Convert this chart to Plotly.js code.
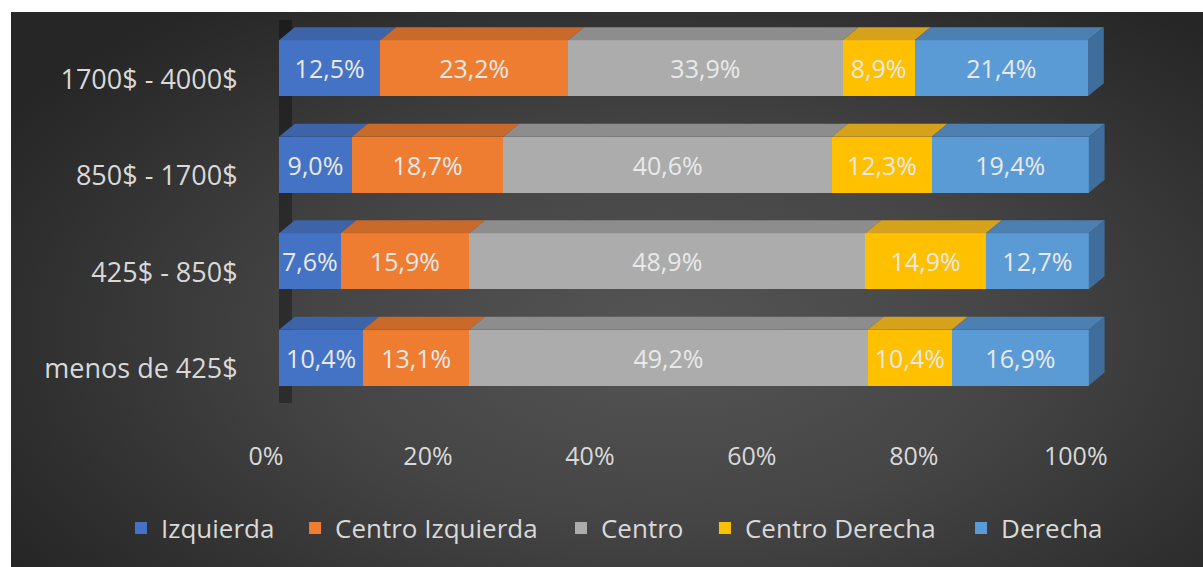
<!DOCTYPE html>
<html>
<head>
<meta charset="utf-8">
<script src="https://cdn.plot.ly/plotly-3.0.1.min.js"></script>
<style>
  html, body { margin: 0; padding: 0; background: #ffffff; }
  #wrap { position: relative; width: 1203px; height: 567px; overflow: hidden; }
  #bg { position: absolute; left: 11px; top: 12px; width: 1192px; height: 555px;
        background: radial-gradient(ellipse 65% 75% at 55% 58%, #555555 0%, #454545 45%, #2e2e2e 85%, #262626 100%); }
  #chart { position: absolute; left: 0; top: 0; width: 1203px; height: 567px; }
</style>
</head>
<body>
<div id="wrap"><div id="bg"></div><div id="chart"></div></div>
<script>
// ---- data ----
const categories = ['menos de 425$', '425$ - 850$', '850$ - 1700$', '1700$ - 4000$'];
const seriesNames = ['Izquierda', 'Centro Izquierda', 'Centro', 'Centro Derecha', 'Derecha'];
const izquierda = [10.4, 7.6, 9.0, 12.5];
const centroIzquierda = [13.1, 15.9, 18.7, 23.2];
const centro = [49.2, 48.9, 40.6, 33.9];
const centroDerecha = [10.4, 14.9, 12.3, 8.9];
const derecha = [16.9, 12.7, 19.4, 21.4];
const xTickVals = [0, 20, 40, 60, 80, 100];
const xTickText = ['0%', '20%', '40%', '60%', '80%', '100%'];

// ---- style ----
const frontColors = ['#4472c4', '#ee7d31', '#acacac', '#ffc000', '#5b9bd5'];
const topColors   = ['#3d63a8', '#c96a2a', '#8d8d8d', '#d6a21c', '#4c80b2'];
const sideColor = '#3f6e9c';
const barW = 0.58;     // front face height (category units)
const depthX = 1.95;   // 3D depth offset in % units
const depthY = 0.135;  // 3D depth offset in category units
const FONT = '"Open Sans", "Liberation Sans", sans-serif';
const legendX = [-0.1913, 0.0194, 0.3414, 0.5157, 0.8257]; // legend entry positions (paper)

const allSeries = [izquierda, centroIzquierda, centro, centroDerecha, derecha];
const yIdx = categories.map((c, i) => i);
const fmt = v => v.toFixed(1).replace('.', ',') + '%';
const legendIds = ['legend', 'legend2', 'legend3', 'legend4', 'legend5'];

const traces = [];
const cum = categories.map(() => 0);
const topTraces = [];
allSeries.forEach((vals, s) => {
  const xs = [], ys = [];
  vals.forEach((v, i) => {
    const b = cum[i];
    const y0 = i + barW / 2;
    xs.push(b, b + v, b + v + depthX, b + depthX, b, null);
    ys.push(y0, y0, y0 + depthY, y0 + depthY, y0, null);
  });
  topTraces.push({
    type: 'scatter', mode: 'lines', x: xs, y: ys, fill: 'toself',
    fillcolor: topColors[s], line: { width: 0, color: topColors[s] },
    showlegend: false, hoverinfo: 'skip', cliponaxis: false
  });
  traces.push({
    type: 'bar', orientation: 'h', name: seriesNames[s], legend: legendIds[s],
    x: vals, y: yIdx, width: barW,
    marker: { color: frontColors[s], line: { width: 0 } },
    text: vals.map(fmt), textposition: 'inside', insidetextanchor: 'middle',
    constraintext: 'none',
    textfont: { family: FONT, size: 25, color: '#e9e9e9' },
    hoverinfo: 'skip'
  });
  vals.forEach((v, i) => { cum[i] += v; });
});

// right side face of the last segment
const sx = [], sy = [];
yIdx.forEach((i) => {
  const e = cum[i];
  sx.push(e, e, e + depthX, e + depthX, e, null);
  sy.push(i - barW / 2, i + barW / 2, i + barW / 2 + depthY, i - barW / 2 + depthY, i - barW / 2, null);
});
const sideTrace = {
  type: 'scatter', mode: 'lines', x: sx, y: sy, fill: 'toself',
  fillcolor: sideColor, line: { width: 0, color: sideColor },
  showlegend: false, hoverinfo: 'skip'
};

const data = topTraces.concat([sideTrace]).concat(traces);

const layout = {
  width: 1203, height: 567,
  margin: { l: 279, r: 98, t: 20, b: 137 },
  paper_bgcolor: 'rgba(0,0,0,0)', plot_bgcolor: 'rgba(0,0,0,0)',
  barmode: 'stack', showlegend: true,
  xaxis: {
    range: [0, 102], tickvals: xTickVals, ticktext: xTickText,
    showgrid: false, zeroline: false, showline: false,
    ticks: 'outside', ticklen: 4, tickcolor: 'rgba(0,0,0,0)',
    ticklabelshift: -13,
    tickfont: { family: FONT, size: 25, color: '#d9d9d9' }, fixedrange: true
  },
  yaxis: {
    range: [-0.75, 3.5], tickvals: yIdx, ticktext: categories,
    showgrid: false, zeroline: false, showline: false,
    ticks: 'outside', ticklen: 35, tickcolor: 'rgba(0,0,0,0)',
    ticklabelshift: 11,
    tickfont: { family: FONT, size: 27, color: '#d9d9d9' }, fixedrange: true
  },
  shapes: [{
    type: 'rect', xref: 'x', yref: 'y', layer: 'below',
    x0: -1.0, x1: 1.6, y0: -0.47, y1: 3.7,
    fillcolor: 'rgba(0,0,0,0.32)', line: { width: 0 }
  }]
};
legendIds.forEach((id, s) => {
  layout[id] = {
    orientation: 'h', xref: 'paper', x: legendX[s], xanchor: 'left',
    yref: 'paper', y: -0.239, yanchor: 'middle',
    font: { family: FONT, size: 26, color: '#d9d9d9' },
    bgcolor: 'rgba(0,0,0,0)'
  };
});

Plotly.newPlot('chart', data, layout, { displayModeBar: false, staticPlot: true });
</script>
</body>
</html>
